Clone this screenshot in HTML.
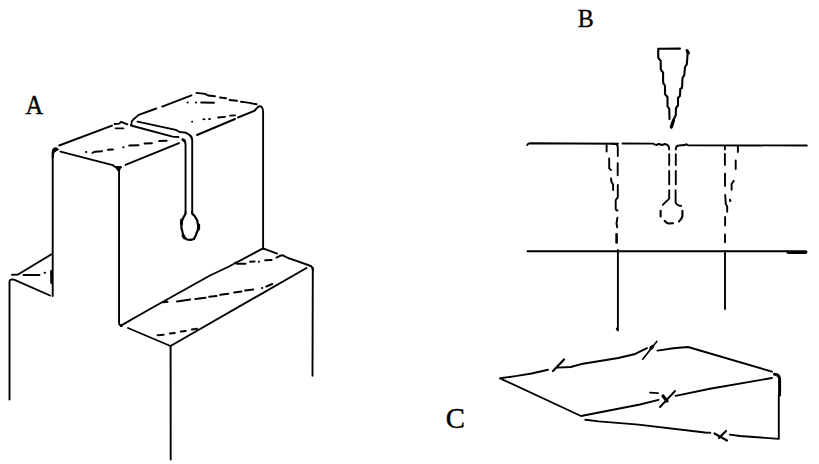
<!DOCTYPE html>
<html><head><meta charset="utf-8">
<style>
html,body{margin:0;padding:0;background:#fff;width:819px;height:464px;overflow:hidden}
svg{display:block}
text{font-family:"Liberation Serif",serif;fill:#000;stroke:#000;stroke-width:0.35px}
</style></head><body>
<svg width="819" height="464" viewBox="0 0 819 464">
<g fill="none" stroke="#000" stroke-width="1.9" stroke-linecap="round" stroke-linejoin="round">
<!-- ===== Figure A ===== -->
<!-- left block verticals -->
<path d="M52.7 296 L52.7 153 Q53 149.5 55.5 149"/>
<path d="M51.8 158 L51.8 151 Q52.5 147.2 56 147.3 Q58 147.6 59 150 Q56 150.8 54.2 153 L53.8 158 Z" fill="#000" stroke="none"/>
<path d="M119.05 169 L119.05 323 Q119.3 326 122 325.5"/>
<circle cx="121.3" cy="325.5" r="1.6" fill="#000" stroke="none"/>
<!-- left block top face -->
<path d="M59.2 145.5 L112 125.6 M114.6 124 L119.2 123.6 L121 121.8 L127.4 124.3" />
<path d="M115.5 128.4 L123.5 128.4" stroke-width="1.6"/>
<path d="M60.5 151.6 L112.7 165.1 L115.5 167.3 L121 167.3 M125.5 164.9 L179 143.1"/>
<path d="M114.5 166.3 L121.8 166.3 L120.5 169 L119.8 172 L118.2 172 Z" fill="#000" stroke="none"/>
<path d="M86 152.1 L86.3 152.1 M92.5 152.8 L95 151.7 L102 151.2 M108 149.8 L113 149.6 M123.2 147.2 L123.5 147.2 M129.3 145.6 L138.5 145.3 M144.6 143.4 L151.9 143.2 M159.2 141 L166.6 140.8" stroke-width="2"/>
<!-- slot -->
<path d="M131 125.5 L172.6 136.6 L178.4 137"/>
<path d="M182.8 139.6 Q185.5 140.5 185.55 144.5 L185.55 212"/>
<path d="M182.8 139.8 L184.5 140.8" stroke-width="2.8"/>
<path d="M137.5 121.6 L175.8 129.9 L179.7 132 L185.5 132.6 L188.7 134.4 Q192.2 136.5 192.2 140 L192.2 212"/>
<path d="M185.55 212 L185.6 213.6 L183.6 217 L181.9 221.4 L181.3 227.4 L182.6 232.6 L183.8 236.9 L187 239.5 L190.5 239.9 L194 239 L195.8 235.2 L197.8 230 L198.3 226.6 L197.2 220.5 L194.8 216.2 L192.2 213.6 L192.2 212" stroke-width="2.2"/>
<path d="M181.6 220 L181.4 224 M198.7 225 L198.6 229 M183 235.5 L184.5 238" stroke-width="3"/>
<!-- right block -->
<path d="M131.2 125 Q131 121.5 133 119.8 L138.7 114.9 L156.3 108.5 M162.2 106.6 L191.5 95.3"/>
<path d="M196.4 92.9 L205.1 93.9 L208 95.5 L215 96.2 M220 97.5 L226 98.3 M229.5 100 L237 100.8 M241 101.8 L248 102.6 L256.6 104.3"/>
<path d="M254.3 110.8 L258.5 106.5 Q260 105.8 261.5 106.8 Q263.1 108.5 263.1 111 L263.1 249"/>
<path d="M254.3 110.8 L238 117.5 M235 119 L197 135"/>
<path d="M187.6 102.6 L187.7 102.6 M195.9 102.6 L196 102.6 M201.2 102.6 L214 102.8" stroke-width="2"/>
<path d="M192 121.7 L192.3 121.7 M203.2 119.3 L204.5 119.2 M209 119.1 L210 119 M218 117.5 L225 116.8 M230 115.7 L235 115.3" stroke-width="1.8"/>
<!-- ledge -->
<path d="M12 274.7 L18 274.5 L52 254"/>
<path d="M9.5 399.5 L9.5 281.5 Q9.7 279.4 12 279.4 L14 279.6 L50 295.5"/>
<path d="M23.5 275 L39.5 275 M44.6 272.8 L45 272.8" stroke-width="1.9"/>
<path d="M51.2 271 L51.4 283" stroke-width="2.2"/>
<!-- lower step -->
<path d="M121.3 325.3 L150 309 L210 275.5 L229 266.5 L263 248.4 L277.1 253.6 M276.5 257.6 L280 255.8 L283 255.3 L288 258 L295 260.4 L309.5 265.5 Q312.8 266.5 312.8 270 M306.5 268 L170.5 346 L128 328"/>
<path d="M312.8 268 L312.5 375.7"/>
<path d="M170.6 346 L170.7 459.6"/>
<path d="M163 302.3 L167.5 301.8 M177 301.4 L190.2 299.6 M195.3 298.9 L205.5 297.7 M209.2 296.7 L216.5 296 M220.2 294.8 L228.3 293.8 M234.1 292.4 L241.4 291.5 M245.1 290.4 L253.2 289.4 M262 288 L262.3 288 M266.4 286.5 L272.2 284" stroke-width="2"/>
<path d="M235.5 262.5 L237 263.8 L245.5 263.7 M250.2 261.8 L254.5 261.6 M258.8 261.7 L259 261.7 M265.2 260.2 L271.6 260" stroke-width="2"/>
<path d="M157.6 335.2 L163.7 334.8 M169.8 333.5 L174.7 333 M180.8 331.4 L185.7 330.9 M192 329.6 L197 328.8" stroke-width="2"/>

<!-- ===== Figure B ===== -->
<!-- wedge -->
<path d="M680 48.6 L658.2 48.8 L658.3 58 L660.7 60.6 L660.8 69.6 L663.1 72.6 L663.1 82.7 L665 85.8 L665 94.2 L667.5 97 L667.5 106.3 L669.3 109 L669.5 119" stroke-width="2.1"/>
<path d="M687.8 51.2 L687.5 55 L686.8 64.3 L685 67 L684.3 75 L682.5 78 L682 88 L680.3 88.8 L680 95.7 L678 98 L678 105.4 L676 108 L675.8 115 L673.5 120 L671.5 127.5" stroke-width="2.1"/>
<path d="M687 50.5 L688.5 53" stroke-width="3"/>
<path d="M673.5 120.5 L671.3 127" stroke-width="3.2"/>
<!-- plates -->
<path d="M527.3 145 Q527.8 143.4 530 143.3 L618 143.8 M622.5 143.5 L653 143.6 L656 145 L659 144 L662 145 L665 144 Q669.2 144.5 669.2 149.5 M675.8 149.5 Q675.8 145.5 679 145.5 L685 145 L686.5 144.2 L688 145.3 L806.8 145.5"/>
<path d="M527.5 251.3 L788 251.3"/>
<path d="M788 252.1 L805.7 252.1" stroke-width="3.6"/>
<!-- left crack -->
<path d="M606.6 144 L606.6 151.6 M609.2 158.5 L609.2 168.4 L611 170 M611 178.4 L611.5 181.9 L613.1 184.5 L613.1 190"/>
<path d="M612 143.6 Q617.8 143.6 617.8 147 L617.8 156 M617.7 163.3 L617.7 175.3 M617.8 184.9 L617.8 197.4 L615.7 200 L615.7 209 Q616 210.5 617.5 210.5 M617.4 217.6 L616.5 223.5 L617.2 227.3"/>
<path d="M616.6 234.3 L616.6 242.4" stroke-width="2.6"/>
<path d="M617.9 250 L617.9 330.4 M616.8 328.5 L617.5 330" />
<!-- center crack -->
<path d="M669.2 154.2 L669.2 165 M669.2 171 L669.2 184.3 M669.2 190.3 L669.2 198.6 L662.8 204.9"/>
<path d="M675.8 154.2 L675.8 165 M675.8 171 L675.8 184.3 M675.6 190.3 L675.6 202.5 Q676.5 205.5 681.2 205.9"/>
<path d="M660.6 210.7 L660.6 216.5 M682.4 210.7 L682.4 216 Q682 219 679 221.5 M664.7 220.9 Q666.5 223.5 669 223.5 L673 223.3" stroke-width="2.1"/>
<!-- right crack -->
<path d="M724.9 146 L724.9 149.4 M724.9 154 L724.9 164.9 M725 173.6 L725 185.9 M725.2 195 L725.8 204 L727.2 206.6 L727.2 211.8 M725.1 217 L725.1 225.4 M725 234.5 L725 242.2"/>
<path d="M737.9 146 L737.9 152 M735.7 160.4 L735.7 169 M733.8 180.7 L731.6 184 L731.6 189.8"/>
<path d="M730 200 L730.3 201" stroke-width="2.2"/>
<path d="M725 251 L725 309"/>

<!-- ===== Figure C ===== -->
<path d="M548 369.8 L531.6 373.5 L517 375.9 L500 378.3 L581 416 L640 404.5 L658.5 399.8 M675.6 395.9 L710 388.8 L772 378"/>
<path d="M557.5 367.6 L570.7 367 L583 363.7 L618.3 358 L634.2 354.3 L647 348.2 M657.4 350.6 L673.3 348.2 L688 347 L772 371.7"/>
<path d="M585.3 419.8 L598.8 421.4 L638.5 424.6 L705 432.5 L710.3 432.8 M729.8 434.6 L740 436 L778.8 438.9 L778.8 395"/>
<path d="M774.5 374.2 Q779.5 374.5 779.6 379 L779.6 395" stroke-width="3"/>
<path d="M553 371 L564 359.4" stroke-width="2.2"/>
<path d="M642.7 359.2 L656.8 341.5" stroke-width="1.7"/>
<path d="M652.5 346.5 L651 348" stroke-width="3.5"/>
<path d="M650 392.6 L658 393.2" stroke-width="1.8"/>
<path d="M660 407 L675 391" stroke-width="2"/>
<path d="M663 396 L667 401" stroke-width="3.2"/>
<path d="M714.5 433.5 L727 440.5 M719 438 L726 431" stroke-width="2.2"/>
</g>
<text transform="translate(25.5,113.6) scale(1.02,1.1)" font-size="24">A</text>
<text transform="translate(577.8,26.8) scale(1.0,1.07)" font-size="24">B</text>
<text transform="translate(445.8,428.4) scale(1.2,1.2)" font-size="24">C</text>
</svg>
</body></html>
